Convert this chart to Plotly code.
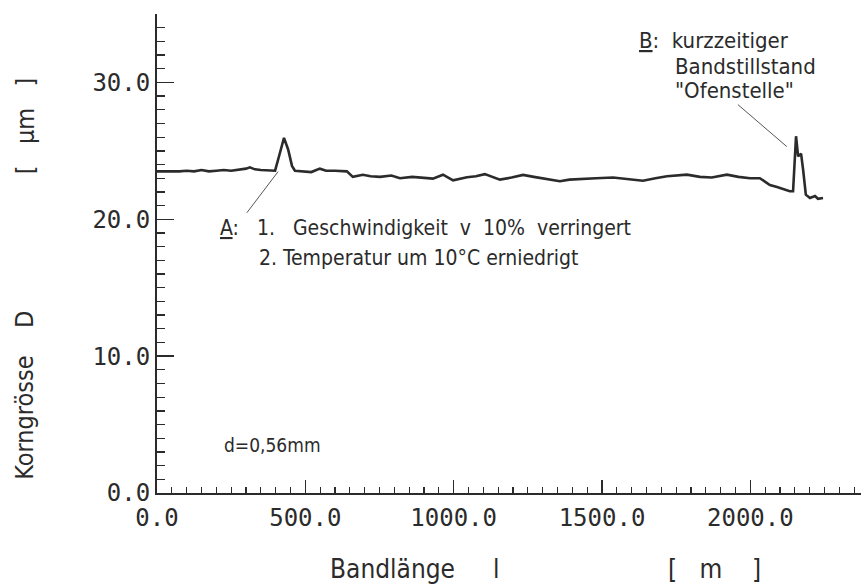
import plotly.graph_objects as go

# Band length [m] and grain size D [µm]
band_length = [0, 25, 50, 75, 100, 125, 150, 175, 200, 225, 250, 275, 300, 313, 330, 350, 375, 398, 415, 428, 442, 455, 465,
               490, 520, 549, 570, 600, 640, 660, 694, 720, 752, 790, 819, 860, 900, 930, 964, 998, 1045, 1075, 1105,
               1156, 1195, 1234, 1270, 1314, 1358, 1390, 1426, 1480, 1537, 1590, 1638, 1680, 1719, 1786, 1830, 1870,
               1921, 1960, 1999, 2032, 2066, 2090, 2110, 2133, 2144, 2154, 2161, 2171, 2178, 2187, 2201, 2218, 2228, 2245]
grain_size = [23.5, 23.5, 23.45, 23.5, 23.55, 23.5, 23.6, 23.5, 23.55, 23.6, 23.55, 23.6, 23.7, 23.8, 23.65, 23.6, 23.55, 23.55,
              24.9, 25.95, 25.1, 23.9, 23.55, 23.5, 23.45, 23.7, 23.55, 23.55, 23.5, 23.1, 23.25, 23.15, 23.1, 23.2, 23.0,
              23.1, 23.0, 22.97, 23.26, 22.85, 23.07, 23.15, 23.3, 22.9, 23.05, 23.24, 23.1, 22.95, 22.78, 22.9, 22.95,
              23.0, 23.05, 22.95, 22.82, 23.0, 23.14, 23.26, 23.1, 23.05, 23.26, 23.1, 23.0, 23.0, 22.5, 22.36, 22.2,
              22.05, 22.05, 26.07, 24.6, 24.8, 23.6, 21.8, 21.56, 21.7, 21.5, 21.56]

x_tick_vals = [0, 500, 1000, 1500, 2000]
x_tick_text = ["0.0", "500.0", "1000.0", "1500.0", "2000.0"]
y_tick_vals = [0, 10, 20, 30]
y_tick_text = ["0.0", "10.0", "20.0", "30.0"]

# annotation pointer lines (data coordinates)
ptr_a_x = [303, 408]
ptr_a_y = [20.48, 23.48]
ptr_b_x = [1958, 2123]
ptr_b_y = [28.38, 25.31]

INK = "#2b2b2b"
TXT_FONT = "DejaVu Sans Condensed, Liberation Sans Narrow, Arial Narrow, DejaVu Sans, sans-serif"
TICK_FONT = "DejaVu Sans Mono, monospace"
SP = "&nbsp;"

fig = go.Figure()
fig.add_trace(go.Scatter(x=band_length, y=grain_size, mode="lines",
                         line=dict(color=INK, width=2.6), showlegend=False, hoverinfo="skip"))
fig.add_trace(go.Scatter(x=ptr_a_x, y=ptr_a_y, mode="lines",
                         line=dict(color="#555", width=1), showlegend=False, hoverinfo="skip"))
fig.add_trace(go.Scatter(x=ptr_b_x, y=ptr_b_y, mode="lines",
                         line=dict(color="#555", width=1), showlegend=False, hoverinfo="skip"))

def txt(x, y, s, size=22, **kw):
    fig.add_annotation(x=x, y=y, text=s, showarrow=False, xanchor="left", yanchor="middle",
                       font=dict(family=TXT_FONT, size=size, color=INK), **kw)

txt(206, 19.39, "<u>A</u>:" + SP * 3 + "1." + SP * 3 + "Geschwindigkeit" + SP * 2 + "v" + SP * 2 + "10%" + SP * 2 + "verringert", size=21)
txt(337, 17.19, "2. Temperatur um 10°C erniedrigt", size=21)
txt(1618, 33.07, "<u>B</u>:" + SP * 2 + "kurzzeitiger")
txt(1739, 31.16, "Bandstillstand")
txt(1739, 29.4, "\"Ofenstelle\"")
txt(219, 3.5, "d=0,56mm", size=19)

# axis titles
def ytitle(y, s):
    fig.add_annotation(xref="paper", x=0, xshift=-132, y=y, text=s, showarrow=False, textangle=-90,
                       xanchor="center", yanchor="middle",
                       font=dict(family=TXT_FONT, size=25, color=INK))

ytitle(5.5, "Korngrösse")
ytitle(12.65, "D")
ytitle(26.8, "[" + SP * 3 + "µm" + SP * 3 + "]")

def xtitle(x, s):
    fig.add_annotation(yref="paper", y=0, yshift=-76, x=x, text=s, showarrow=False,
                       xanchor="center", yanchor="middle",
                       font=dict(family=TXT_FONT, size=26, color=INK))

xtitle(793, "Bandlänge")
xtitle(1146, "l")
xtitle(1880, "[" + SP * 3 + "m" + SP * 4 + "]")

fig.update_xaxes(range=[0, 2373], showgrid=False, zeroline=False, automargin=False,
                 showline=True, linecolor=INK, linewidth=2,
                 tickvals=x_tick_vals, ticktext=x_tick_text,
                 ticks="inside", ticklen=13, tickwidth=1.5, tickcolor=INK,
                 minor=dict(dtick=50, tick0=0, ticks="inside", ticklen=6, tickwidth=1.3, tickcolor=INK),
                 tickfont=dict(family=TICK_FONT, size=24, color=INK), ticklabelstandoff=2)
fig.update_yaxes(range=[0, 35], showgrid=False, zeroline=False, automargin=False,
                 showline=True, linecolor=INK, linewidth=2,
                 tickvals=y_tick_vals, ticktext=y_tick_text,
                 ticks="inside", ticklen=17, tickwidth=1.5, tickcolor=INK,
                 minor=dict(dtick=1, tick0=0, ticks="inside", ticklen=8, tickwidth=1.3, tickcolor=INK),
                 tickfont=dict(family=TICK_FONT, size=24, color=INK), ticklabelstandoff=0)

fig.update_layout(width=861, height=585, margin=dict(l=157, r=0, t=14, b=92),
                  plot_bgcolor="white", paper_bgcolor="white")

fig.write_html("out.html", config={"displayModeBar": False, "staticPlot": True},
               post_script="document.body.style.margin='0';document.body.style.overflow='hidden';")
